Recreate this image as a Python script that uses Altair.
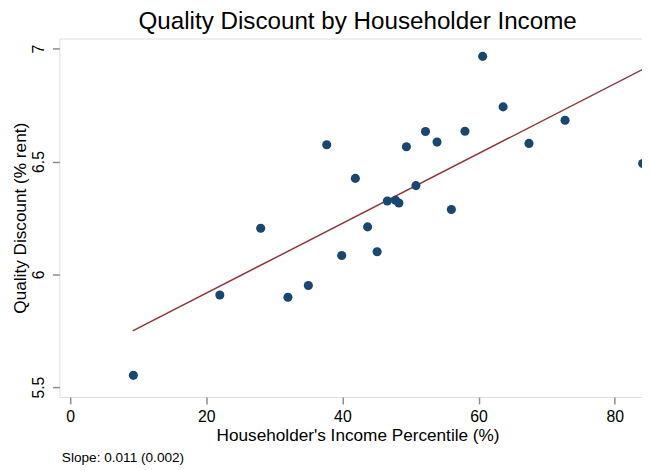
import altair as alt
import pandas as pd

# Data
income_pct = [9.3, 22.0, 28.0, 32.0, 35.0, 37.7, 39.9, 41.9, 43.7, 45.1, 46.6, 47.8,
              48.3, 49.4, 50.8, 52.2, 53.9, 56.0, 58.0, 60.6, 63.6, 67.4, 72.7, 84.1]
quality_discount = [5.552, 5.908, 6.204, 5.898, 5.950, 6.574, 6.083, 6.425, 6.210, 6.100,
                    6.325, 6.328, 6.316, 6.565, 6.393, 6.633, 6.586, 6.287, 6.634, 6.966,
                    6.742, 6.580, 6.683, 6.491]
fit_x = [9.2, 84.1]
fit_y = [5.749, 6.908]
x_ticks = [0, 20, 40, 60, 80]
y_ticks = [5.5, 6, 6.5, 7]
title_text = ["Quality Discount by Householder Income"]
note_text = ["Slope: 0.011 (0.002)"]

pts = pd.DataFrame({"x": income_pct, "y": quality_discount})
fit = pd.DataFrame({"x": fit_x, "y": fit_y})
note = pd.DataFrame({"t": note_text})
ttl = pd.DataFrame({"t": title_text})

FONT = "Liberation Sans"

xscale = alt.Scale(domain=[-1.57, 84.0], nice=False, zero=False)
yscale = alt.Scale(domain=[5.456, 7.045], nice=False, zero=False)

xaxis = alt.Axis(values=x_ticks, title="Householder's Income Percentile (%)", grid=False,
                 domain=False, tickColor="#8c8c8c", tickWidth=1.5, tickSize=7,
                 labelFont=FONT, labelFontSize=16, labelColor="black",
                 labelBaseline="alphabetic", labelPadding=18,
                 titleFont=FONT, titleFontSize=17.4, titleFontWeight="normal", titleColor="black",
                 titleBaseline="alphabetic", titleX=302, titleY=44, titleAnchor="middle")
yaxis = alt.Axis(values=y_ticks, format="~g", title="Quality Discount (% rent)", grid=False,
                 domain=False, tickColor="#8c8c8c", tickWidth=1.5, tickSize=7,
                 labelFont=FONT, labelFontSize=16, labelColor="black",
                 labelAngle=270, labelAlign="center", labelBaseline="alphabetic", labelPadding=9,
                 titleFont=FONT, titleFontSize=17.4, titleFontWeight="normal", titleColor="black",
                 titleAngle=270, titleBaseline="alphabetic", titleAlign="center",
                 titleX=-34.5, titleY=181.5)

points = alt.Chart(pts).mark_circle(size=85, color="#1a476f", opacity=1).encode(
    x=alt.X("x:Q", scale=xscale, axis=xaxis),
    y=alt.Y("y:Q", scale=yscale, axis=yaxis),
)

line = alt.Chart(fit).mark_line(color="#90353b", strokeWidth=1.5).encode(
    x=alt.X("x:Q", scale=xscale),
    y=alt.Y("y:Q", scale=yscale),
)

text = alt.Chart(note).mark_text(align="left", baseline="alphabetic", font=FONT,
                                 fontSize=13.8, color="black").encode(
    x=alt.value(2.5), y=alt.value(429), text="t:N"
)

title = alt.Chart(ttl).mark_text(align="center", baseline="alphabetic", font=FONT,
                                 fontSize=24.5, color="black").encode(
    x=alt.value(302), y=alt.value(-10), text="t:N"
)

chart = alt.layer(line, points, text, title).properties(
    width=590, height=363,
    autosize=alt.AutoSizeParams(type="none"),
    padding={"left": 52, "top": 28, "right": 0, "bottom": 70},
).configure_view(stroke="black", strokeWidth=1.5).configure(background="white")

chart.save("out.html", embed_options={"renderer": "svg", "actions": False})
